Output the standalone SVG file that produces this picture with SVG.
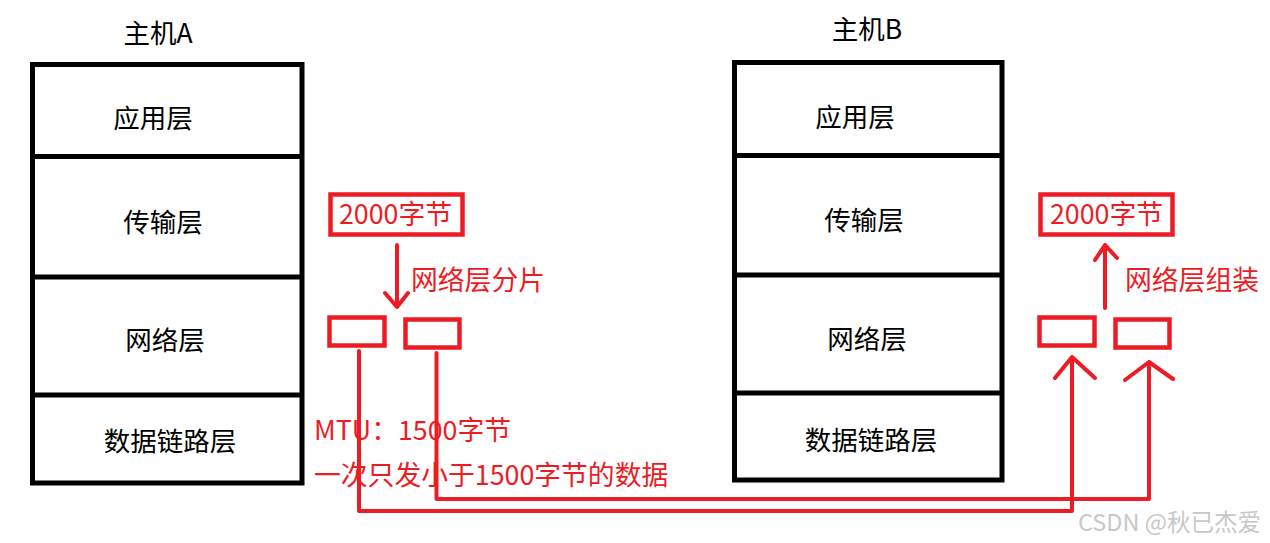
<svg xmlns="http://www.w3.org/2000/svg" width="1270" height="543" viewBox="0 0 1270 543">
<style>
.stack{fill:none;stroke:#000;stroke-width:5}
.lbl{font-family:"Noto Sans CJK SC","Microsoft YaHei",sans-serif;font-size:26.5px;fill:#000;text-anchor:middle}
.red{font-family:"Noto Sans CJK SC","Microsoft YaHei",sans-serif;font-size:26.8px;fill:#ED1C24}
.rbox{fill:none;stroke:#ED1C24;stroke-width:4.5}
.wire{fill:none;stroke:#ED1C24;stroke-width:4;stroke-linecap:round;stroke-linejoin:round}
.wm{font-family:"Noto Sans CJK SC",sans-serif;font-size:23.5px;fill:#c8c8c8}
</style>
<rect width="1270" height="543" fill="#fff"/>
<g id="hostA">
<text class="lbl" x="158" y="43">主机A</text>
<rect class="stack" x="32.5" y="64.5" width="269.5" height="418.5"/>
<line class="stack" x1="32.5" y1="156.5" x2="304" y2="156.5"/>
<line class="stack" x1="32.5" y1="277" x2="304" y2="277"/>
<line class="stack" x1="32.5" y1="395" x2="304" y2="395"/>
<text class="lbl" x="153" y="128">应用层</text>
<text class="lbl" x="163" y="232">传输层</text>
<text class="lbl" x="165" y="350">网络层</text>
<text class="lbl" x="170" y="451">数据链路层</text>
</g>
<g id="hostB">
<text class="lbl" x="867" y="39">主机B</text>
<rect class="stack" x="734.5" y="62.5" width="267.5" height="417.5"/>
<line class="stack" x1="734.5" y1="155.5" x2="1004" y2="155.5"/>
<line class="stack" x1="734.5" y1="275" x2="1004" y2="275"/>
<line class="stack" x1="734.5" y1="393" x2="1004" y2="393"/>
<text class="lbl" x="855" y="127">应用层</text>
<text class="lbl" x="864" y="230">传输层</text>
<text class="lbl" x="867" y="349">网络层</text>
<text class="lbl" x="871" y="450">数据链路层</text>
</g>
<g id="segA">
<rect class="rbox" x="330.5" y="194.5" width="132" height="40"/>
<text class="red" x="339" y="224">2000字节</text>
<text class="red" x="411" y="290">网络层分片</text>
<rect class="rbox" x="329.5" y="317.5" width="55" height="28"/>
<rect class="rbox" x="405.5" y="319.5" width="54" height="28"/>
<text class="red" x="314" y="440">MTU：1500字节</text>
<text class="red" x="314" y="485">一次只发小于1500字节的数据</text>
</g>
<g id="segB">
<rect class="rbox" x="1040.5" y="194.5" width="132" height="40"/>
<text class="red" x="1050" y="224">2000字节</text>
<text class="red" x="1125" y="290">网络层组装</text>
<rect class="rbox" x="1039.5" y="317.5" width="55" height="28"/>
<rect class="rbox" x="1115.5" y="319.5" width="54" height="28"/>
</g>
<g id="connectors">
<path class="wire" d="M397 245 V307 M385 293 L397 307 L408 293"/>
<path class="wire" d="M1105 308 V245 M1095 260 L1105 245 L1117 258"/>
<path class="wire" d="M359 351 V511 H1072 V357 M1055 378 L1072 357 L1095 378"/>
<path class="wire" d="M436.5 353 V499 H1149 V362 M1125 380 L1149 362 L1173 379"/>
</g>
<text class="wm" x="1078" y="531">CSDN @秋已杰爱</text>
</svg>
